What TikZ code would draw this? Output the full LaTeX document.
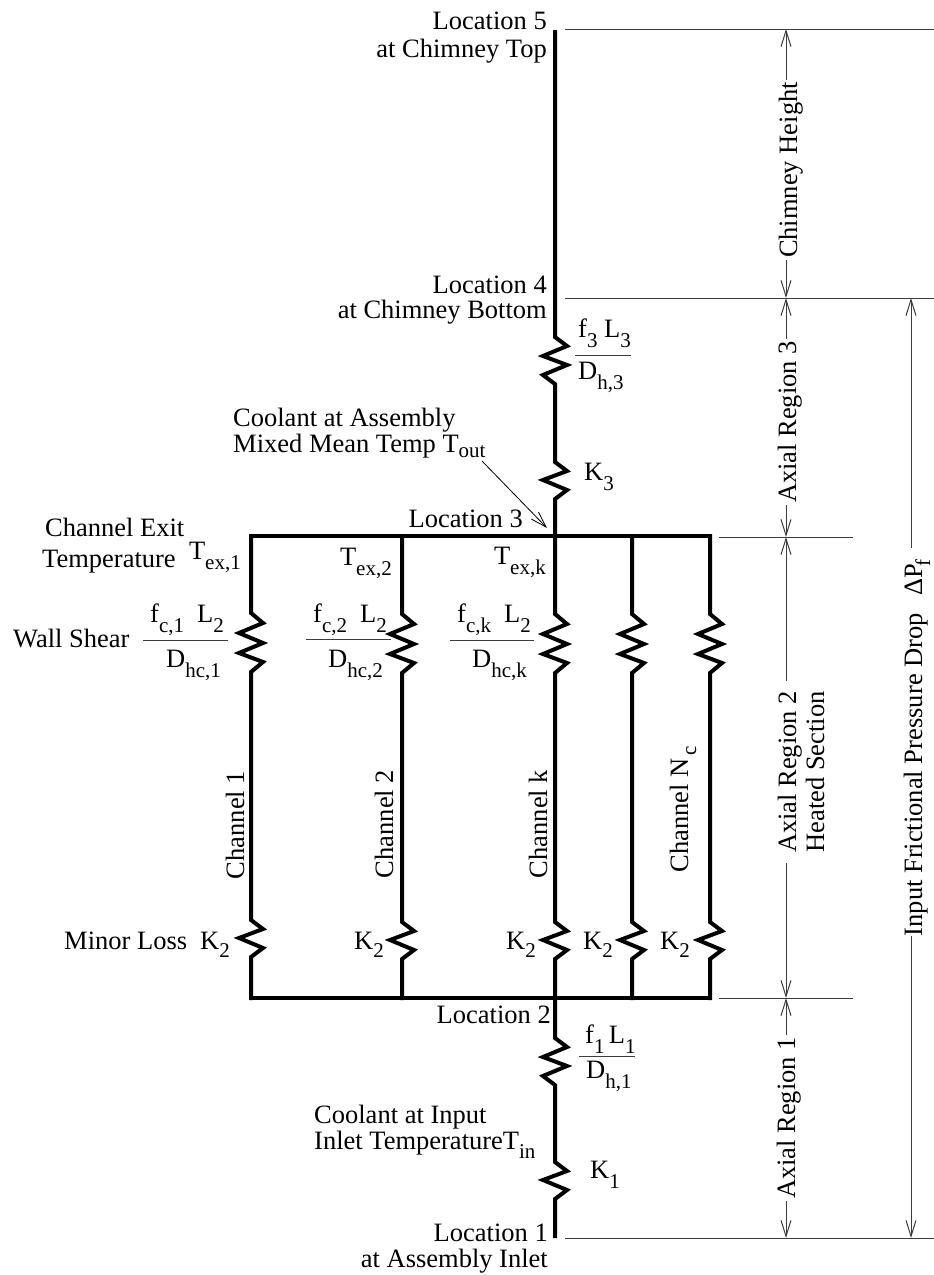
\documentclass[tikz,border=0pt]{standalone}
\usepackage{fontspec}
\usepackage{xcolor}
\setmainfont{Liberation Serif}
\usetikzlibrary{calc,arrows.meta,positioning}
\definecolor{dimGray}{RGB}{60,60,60}
\newcommand{\sbs}[2][-10pt]{\raisebox{#1}{\fontsize{21}{21}\selectfont #2}}
\newcommand{\zigwall}{-- ++(12,10) -- ++(-24,10) -- ++(24,10) -- ++(-24,10) -- ++(24,9) -- ++(-12,10)}
\newcommand{\zigfric}{-- ++(12,9) -- ++(-24,10) -- ++(24,9) -- ++(-24,10) -- ++(12,9)}
\newcommand{\zigminor}{-- ++(12,9) -- ++(-24,9) -- ++(24,10) -- ++(-12,9)}
\tikzset{
  wire/.style={line width=4pt, line cap=rect, miter limit=10},
  extline/.style={line width=1pt, dimGray},
  dimline/.style={line width=1pt, dimGray},
  dimarrow/.style={dimline, -{Straight Barb[length=16pt,width=10pt]}},
  fracbar/.style={line width=1pt, dimGray},
  txt/.style={font=\fontsize{26.5}{26}\selectfont, inner sep=0pt},
  rtxt/.style={txt, anchor=base east},
  ltxt/.style={txt, anchor=base west},
  vtxt/.style={txt, anchor=base, rotate=90},
  dimlabel/.style={vtxt, inner sep=2pt}
}
\begin{document}
\begin{tikzpicture}[x=1pt,y=-1pt]
\useasboundingbox (0,0) rectangle (934,1275);
% junctions
\coordinate (locFive) at (555,32);
\coordinate (locFour) at (555,298);
\coordinate (locThree) at (555,536);
\coordinate (locTwo) at (555,998);
\coordinate (locOne) at (555,1236);
\coordinate (topOne) at (251,536);
\coordinate (topTwo) at (402,536);
\coordinate (topFour) at (632,536);
\coordinate (topFive) at (710,536);
\coordinate (botOne) at (251,998);
\coordinate (botTwo) at (402,998);
\coordinate (botFour) at (632,998);
\coordinate (botFive) at (710,998);
% main stack
\draw[wire] (locFive) -- (555,337) \zigfric -- (555,462) \zigminor -- (locThree);
\draw[wire] (locTwo) -- (555,1038) \zigfric -- (555,1162) \zigminor -- (locOne);
% headers
\draw[wire] (topOne) -- (topFive);
\draw[wire] (botOne) -- (botFive);
% channels
\draw[wire] (topOne) -- ++(0,77) \zigwall -- ++(0,248) \zigminor -- (botOne);
\draw[wire] (topTwo) -- ++(0,78) \zigwall -- ++(0,249) \zigminor -- (botTwo);
\draw[wire] (locThree) -- ++(0,78) \zigwall -- ++(0,249) \zigminor -- (locTwo);
\draw[wire] (topFour) -- ++(0,78) \zigwall -- ++(0,249) \zigminor -- (botFour);
\draw[wire] (topFive) -- ++(0,78) \zigwall -- ++(0,249) \zigminor -- (botFive);
% location labels
\node[rtxt, align=right] (labFive) at (547,57) {Location 5\\[2pt]at Chimney Top};
\node[rtxt, align=right] (labFour) at (547,318) {Location 4\\[-1pt]at Chimney Bottom};
\node[rtxt] (labThree) at (523,527) {Location 3};
\node[rtxt] (labTwo) at (551,1023) {Location 2};
\node[rtxt, align=right] (labOne) at (548,1267) {Location 1\\at Assembly Inlet};
% coolant labels
\node[ltxt, align=left] (coolOut) at (233,452) {Coolant at Assembly\\Mixed Mean Temp T\sbs[-5pt]{out}};
\node[ltxt, align=left] (coolIn) at (314,1149) {Coolant at Input\\Inlet TemperatureT\sbs[-9pt]{in}};
\coordinate (coolTail) at (482,461);
\coordinate (coolHead) at (547,528);
\draw[black, line width=0.8pt, -{Straight Barb[length=16pt,width=10pt]}] (coolTail) -- (coolHead);
% exit temperatures
\node[ltxt] (exitOne) at (45,536) {Channel Exit};
\node[ltxt] (exitTwo) at (42,567) {Temperature};
\node[rtxt] (texOne) at (241,559) {T\sbs{ex,1}};
\node[rtxt] (texTwo) at (392,565) {T\sbs{ex,2}};
\node[rtxt] (texK) at (546,564) {T\sbs{ex,k}};
% wall shear
\node[ltxt] (wallShear) at (13,647) {Wall Shear};
\node[ltxt] (numOne) at (150,622) {f\sbs{c,1}\hspace{13pt}L\sbs{2}};
\node[ltxt] (denOne) at (166,667) {D\sbs{hc,1}};
\coordinate (barOneA) at (143,640);
\coordinate (barOneB) at (228,640);
\draw[fracbar] (barOneA) -- (barOneB);
\node[ltxt] (numTwo) at (313,622) {f\sbs{c,2}\hspace{13pt}L\sbs{2}};
\node[ltxt] (denTwo) at (328,667) {D\sbs{hc,2}};
\coordinate (barTwoA) at (306,639);
\coordinate (barTwoB) at (391,639);
\draw[fracbar] (barTwoA) -- (barTwoB);
\node[ltxt] (numK) at (457,622) {f\sbs{c,k}\hspace{13pt}L\sbs{2}};
\node[ltxt] (denK) at (472,667) {D\sbs{hc,k}};
\coordinate (barKA) at (450,640);
\coordinate (barKB) at (534,640);
\draw[fracbar] (barKA) -- (barKB);
% region friction terms
\node[ltxt] (numThree) at (578,337) {f\sbs{3} L\sbs{3}};
\node[ltxt] (denThree) at (578,379) {D\sbs{h,3}};
\coordinate (barThreeA) at (575,355);
\coordinate (barThreeB) at (631,355);
\draw[fracbar] (barThreeA) -- (barThreeB);
\node[ltxt] (numLow) at (585,1043) {f\sbs{1}\,L\sbs{1}};
\node[ltxt] (denLow) at (586,1078) {D\sbs{h,1}};
\coordinate (barLowA) at (579,1056);
\coordinate (barLowB) at (635,1056);
\draw[fracbar] (barLowA) -- (barLowB);
\node[ltxt] (kThree) at (584,480) {K\sbs{3}};
\node[ltxt] (kOne) at (590,1178) {K\sbs{1}};
% minor losses
\node[ltxt] (minorLoss) at (64,949) {Minor Loss};
\node[ltxt] (kTwoA) at (200,949) {K\sbs[-8pt]{2}};
\node[ltxt] (kTwoB) at (354,949) {K\sbs[-8pt]{2}};
\node[ltxt] (kTwoC) at (506,949) {K\sbs[-8pt]{2}};
\node[ltxt] (kTwoD) at (583,949) {K\sbs[-8pt]{2}};
\node[ltxt] (kTwoE) at (660,949) {K\sbs[-8pt]{2}};
% channel names
\node[vtxt] (chanOne) at (244,825) {Channel 1};
\node[vtxt] (chanTwo) at (393,824) {Channel 2};
\node[vtxt] (chanK) at (547,824) {Channel k};
\node[vtxt] (chanNc) at (688,809) {Channel N\hspace{3pt}\sbs[-8pt]{c}};
% extension lines
\coordinate (extFiveA) at (565,29);
\coordinate (extFiveB) at (934,29);
\coordinate (extFourA) at (565,298);
\coordinate (extFourB) at (934,298);
\coordinate (extThreeA) at (719,537);
\coordinate (extThreeB) at (853,537);
\coordinate (extTwoA) at (719,998);
\coordinate (extTwoB) at (853,998);
\coordinate (extOneA) at (565,1238);
\coordinate (extOneB) at (934,1238);
\draw[extline] (extFiveA) -- (extFiveB);
\draw[extline] (extFourA) -- (extFourB);
\draw[extline] (extThreeA) -- (extThreeB);
\draw[extline] (extTwoA) -- (extTwoB);
\draw[extline] (extOneA) -- (extOneB);
% dimensions
\coordinate (dimFive) at (786,29);
\coordinate (dimFour) at (786,298);
\coordinate (dimThree) at (786,537);
\coordinate (dimTwo) at (786,998);
\coordinate (dimOne) at (786,1238);
\coordinate (inpTop) at (911,298);
\coordinate (inpBot) at (911,1238);
\node[dimlabel] (chimney) at (797,170) {Chimney Height};
\node[dimlabel] (regThree) at (796,422) {Axial Region 3};
\node[dimlabel, inner xsep=10pt, align=center] (regTwo) at (824,772) {Axial Region 2\\[2pt]Heated Section};
\node[dimlabel] (regOne) at (795,1118) {Axial Region 1};
\node[vtxt, inner sep=0pt] (inpDrop) at (922,748) {Input Frictional Pressure Drop\hspace{11pt} ΔP\hspace{-3pt}\sbs[-8pt]{f}};
\draw[dimarrow] (dimFive |- chimney.east) -- (dimFive);
\draw[dimarrow] (dimFour |- chimney.west) -- (dimFour);
\draw[dimarrow] (dimFour |- regThree.east) -- (dimFour);
\draw[dimarrow] (dimThree |- regThree.west) -- (dimThree);
\draw[dimarrow] (dimThree |- regTwo.east) -- (dimThree);
\draw[dimarrow] (dimTwo |- regTwo.west) -- (dimTwo);
\draw[dimarrow] (dimTwo |- regOne.east) -- (dimTwo);
\draw[dimarrow] (dimOne |- regOne.west) -- (dimOne);
\draw[dimarrow, shorten <=12pt] (inpTop |- inpDrop.east) -- (inpTop);
\draw[dimarrow] (inpBot |- inpDrop.west) -- (inpBot);
\end{tikzpicture}
\end{document}
